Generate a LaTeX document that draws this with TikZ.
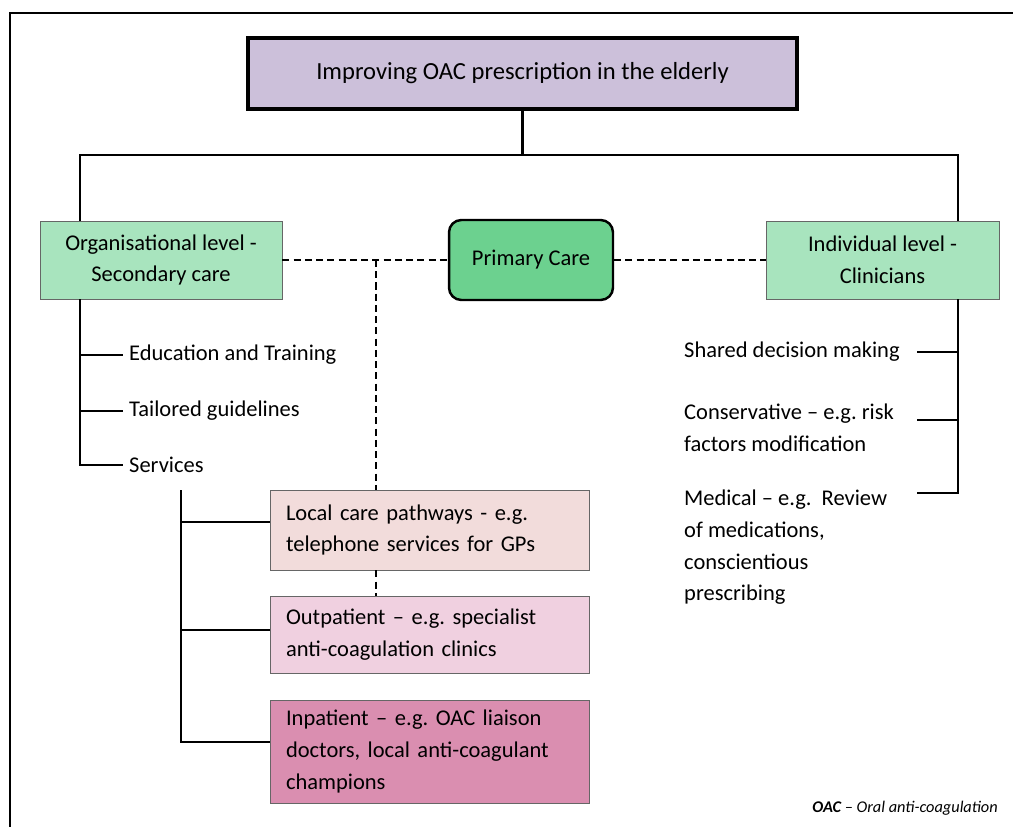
\documentclass[tikz,border=0pt]{standalone}
\usepackage{fontspec}
\setmainfont{Carlito}
\usetikzlibrary{calc}
\frenchspacing
\definecolor{titlefill}{HTML}{CCC0DA}
\definecolor{levelfill}{HTML}{A8E4BE}
\definecolor{primfill}{HTML}{6CD18F}
\definecolor{localfill}{HTML}{F2DCDB}
\definecolor{outfill}{HTML}{F0D0E0}
\definecolor{infill}{HTML}{DA8EB0}
\tikzset{
  txt/.style={font=\fontsize{12.8}{18}\selectfont},
  levelbox/.style={txt,draw=black!60,line width=0.5pt,fill=levelfill,align=center,minimum height=1.56cm},
  servbox/.style={txt,draw=black!60,line width=0.5pt,align=left,anchor=center,
    minimum width=6.38cm,text width=5.74cm,inner xsep=0.32cm},
  tree/.style={line width=1.4pt},
  link/.style={line width=1.1pt,dash pattern=on 4pt off 2.4pt}
}
\begin{document}
\begin{tikzpicture}[x=0.02cm,y=-0.02cm]
\useasboundingbox (0,0) rectangle (1013,827);
\draw[line width=1.1pt] (10,830) -- (10,13) -- (1016,13);

\node[draw,line width=2pt,fill=titlefill,font=\fontsize{14}{18}\selectfont,minimum width=10.98cm,minimum height=1.42cm] (title) at (522.5,73.5) {Improving OAC prescription in the elderly};
\node[levelbox,minimum width=4.84cm] (org) at (161,260) {Organisational level -\\Secondary care};
\node[txt,draw,line width=1.4pt,fill=primfill,rounded corners=7pt,minimum width=3.28cm,minimum height=1.6cm] (prim) at (531,260) {Primary Care};
\node[levelbox,minimum width=4.66cm] (indiv) at (882.5,260) {Individual level -\\Clinicians};

\node[txt,anchor=west] (edu) at (123,355) {Education and Training};
\node[txt,anchor=west] (guide) at (123,411) {Tailored guidelines};
\node[txt,anchor=west] (serv) at (123,465) {Services};

\node[servbox,fill=localfill,minimum height=1.6cm] (local) at (429.5,530) {Local care pathways - e.g.\\telephone services for GPs};
\node[servbox,fill=outfill,minimum height=1.54cm] (outp) at (429.5,634.5) {Outpatient -- e.g. specialist\\anti-coagulation clinics};
\node[servbox,fill=infill,minimum height=2.06cm] (inp) at (429.5,751.5) {Inpatient -- e.g. OAC liaison\\doctors, local anti-coagulant\\champions};

\node[txt,anchor=west] (shared) at (678,352) {Shared decision making};
\node[txt,anchor=north west,align=left] (cons) at (678,398) {Conservative -- e.g. risk\\factors modification};
\node[txt,anchor=north west,align=left] (med) at (678,484) {Medical -- e.g.\ \ Review\\of medications,\\conscientious\\prescribing};

\node[anchor=south east,font=\fontsize{9.3}{11}\selectfont\itshape] (note) at (1004,821) {\textbf{OAC} -- Oral anti-coagulation};

\coordinate (hl) at (80,155);
\coordinate (hr) at (958,155);
\coordinate (rj) at (917,0);
\coordinate (sv) at (181,490);
\coordinate (dj) at (376,260);

\draw[tree] (title.south) -- (title.south |- hl);
\draw[tree] (hl |- org.north) -- (hl) -- (hr) -- (hr |- indiv.north);
\draw[tree] (hl |- org.south) |- (serv.west);
\draw[tree] (hl |- edu.west) -- (edu.west);
\draw[line width=0.7pt] (hl |- guide.west) -- (guide.west);
\draw[tree] (hr |- indiv.south) -- (hr |- 0,493) -- (rj |- 0,493);
\draw[tree] (rj |- 0,352) -- (hr |- 0,352);
\draw[tree] (rj |- 0,420) -- (hr |- 0,420);
\draw[tree] (sv) -- (sv |- 0,742) -- (inp.west |- 0,742);
\draw[tree] (sv |- 0,522) -- (local.west |- 0,522);
\draw[tree] (sv |- 0,630) -- (outp.west |- 0,630);

\draw[link] (org.east) -- (prim.west);
\draw[link] (prim.east) -- (indiv.west);
\draw[link] (dj) -- (dj |- local.north);
\draw[link] (dj |- local.south) -- (dj |- outp.north);
\end{tikzpicture}
\end{document}
